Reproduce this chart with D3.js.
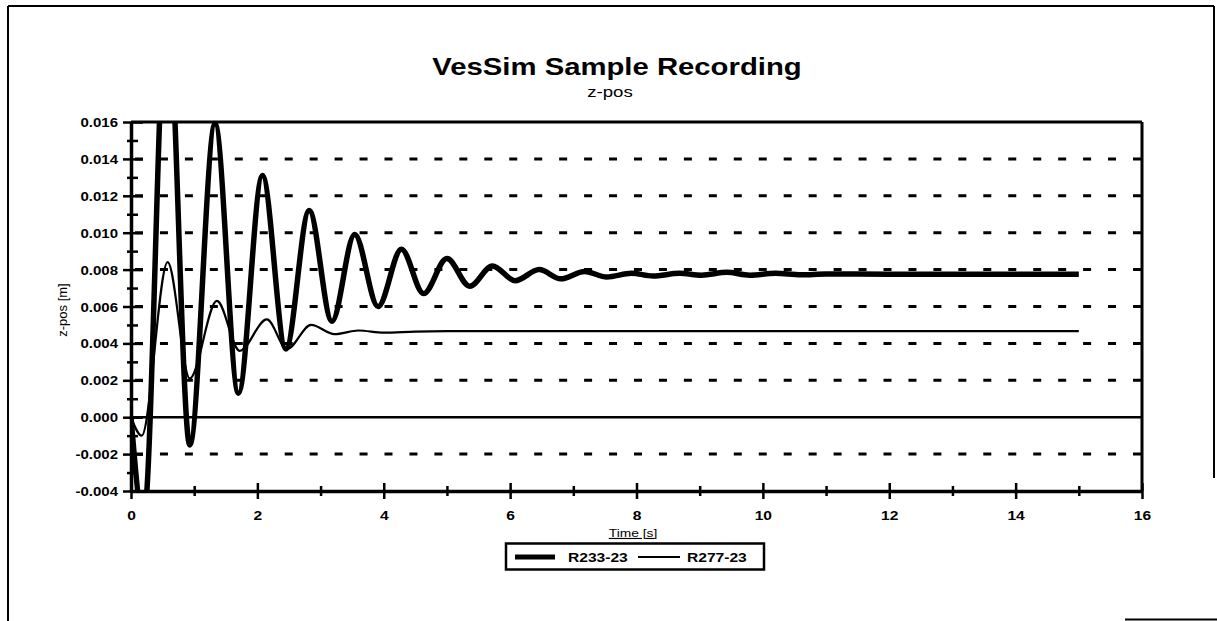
<!DOCTYPE html>
<html><head><meta charset="utf-8">
<script src="https://cdn.jsdelivr.net/npm/d3@7"></script>
<style>
body{margin:0;background:#fff;}
svg{display:block;font-family:"Liberation Sans",Arial,Helvetica,sans-serif;}
</style></head><body>
<svg id="c" width="1217" height="621"></svg>
<script>
const chartTitle = "VesSim Sample Recording";
const chartSubtitle = "z-pos";
const xAxisTitle = "Time [s]";
const yAxisTitle = "z-pos [m]";
const seriesNames = ["R233-23", "R277-23"];

const timeR233 = [0, 0.2, 0.57, 0.93, 1.33, 1.70, 2.08, 2.45, 2.82, 3.18, 3.54, 3.91, 4.28, 4.63, 5.00, 5.36, 5.72, 6.08, 6.46, 6.80, 7.18, 7.53, 7.92, 8.26, 8.68, 9.03, 9.43, 9.79, 10.2, 10.6, 11.0, 12.0, 13.0, 14.0, 15.0];
const valuesR233 = [0, -0.0055, 0.023, -0.0015, 0.0159, 0.0013, 0.0131, 0.0037, 0.0112, 0.0052, 0.0099, 0.0060, 0.0091, 0.0067, 0.0086, 0.0071, 0.0082, 0.0074, 0.0080, 0.0075, 0.0079, 0.0076, 0.0078, 0.00765, 0.0078, 0.0077, 0.00785, 0.0077, 0.0078, 0.00772, 0.00776, 0.00775, 0.00775, 0.00775, 0.00775];

const timeR277 = [0, 0.17, 0.58, 0.93, 1.36, 1.72, 2.15, 2.47, 2.85, 3.22, 3.6, 4.0, 4.5, 5.0, 6.0, 8.0, 10.0, 12.0, 15.0];
const valuesR277 = [0, -0.001, 0.0084, 0.0021, 0.0063, 0.0036, 0.0053, 0.0037, 0.0050, 0.0045, 0.0047, 0.00458, 0.00464, 0.00466, 0.00466, 0.00466, 0.00466, 0.00466, 0.00466];

const xTickValues = [0, 2, 4, 6, 8, 10, 12, 14, 16];
const xMinorTicks = [1, 3, 5, 7, 9, 11, 13, 15];
const yTickValues = [-0.004, -0.002, 0, 0.002, 0.004, 0.006, 0.008, 0.010, 0.012, 0.014, 0.016];
const yTickLabels = ["-0.004", "-0.002", "0.000", "0.002", "0.004", "0.006", "0.008", "0.010", "0.012", "0.014", "0.016"];
const yMinorTicks = [-0.003, -0.001, 0.001, 0.003, 0.005, 0.007, 0.009, 0.011, 0.013, 0.015];
const gridValues = [-0.002, 0.002, 0.004, 0.006, 0.008, 0.010, 0.012, 0.014];

const svg = d3.select("#c");
const x = d3.scaleLinear().domain([0, 16]).range([131, 1142]);
const y = d3.scaleLinear().domain([-0.004, 0.016]).range([491, 122]);
const SX = 1.2;

// outer page frame
const frame = svg.append("g").attr("stroke", "#000").attr("fill", "none");
frame.append("line").attr("x1", 8).attr("x2", 1214).attr("y1", 6).attr("y2", 6).attr("stroke-width", 2);
frame.append("line").attr("x1", 8).attr("x2", 8).attr("y1", 6).attr("y2", 621).attr("stroke-width", 2);
frame.append("line").attr("x1", 1214).attr("x2", 1214).attr("y1", 6).attr("y2", 478).attr("stroke-width", 2);
frame.append("line").attr("x1", 1125).attr("x2", 1217).attr("y1", 619.5).attr("y2", 619.5).attr("stroke-width", 2);

// titles
svg.append("text").attr("transform", `translate(617,75) scale(1.22,1)`).attr("text-anchor", "middle")
  .attr("font-size", 24).attr("font-weight", "bold").text(chartTitle);
svg.append("text").attr("transform", `translate(610,97) scale(${SX},1)`).attr("text-anchor", "middle")
  .attr("font-size", 15.5).text(chartSubtitle);

// grid
svg.append("g").selectAll("line").data(gridValues).join("line")
  .attr("x1", x(0)).attr("x2", x(16)).attr("y1", d => y(d)).attr("y2", d => y(d))
  .attr("stroke", "#000").attr("stroke-width", 3).attr("stroke-dasharray", "8,16.95").attr("stroke-dashoffset", -4);

// zero line
svg.append("line").attr("x1", x(0)).attr("x2", x(16)).attr("y1", y(0)).attr("y2", y(0))
  .attr("stroke", "#000").attr("stroke-width", 2.5);

// clip
svg.append("clipPath").attr("id", "plotclip").append("rect")
  .attr("x", x(0)).attr("y", y(0.016)).attr("width", x(16) - x(0)).attr("height", y(-0.004) - y(0.016));

const line = d3.line().x(d => x(d[0])).y(d => y(d[1])).curve(d3.curveMonotoneX);
const plot = svg.append("g").attr("clip-path", "url(#plotclip)");
plot.append("path").datum(timeR277.map((t, i) => [t, valuesR277[i]])).attr("d", line)
  .attr("fill", "none").attr("stroke", "#000").attr("stroke-width", 2.2).attr("stroke-linejoin", "round");
plot.append("path").datum(timeR233.map((t, i) => [t, valuesR233[i]])).attr("d", line)
  .attr("fill", "none").attr("stroke", "#000").attr("stroke-width", 5.5).attr("stroke-linejoin", "round");

// frame of plot (top & right)
svg.append("line").attr("x1", x(0)).attr("x2", x(16)).attr("y1", y(0.016)).attr("y2", y(0.016))
  .attr("stroke", "#000").attr("stroke-width", 3);
svg.append("line").attr("x1", x(16)).attr("x2", x(16)).attr("y1", y(0.016)).attr("y2", y(-0.004))
  .attr("stroke", "#000").attr("stroke-width", 3);

// x axis
const gx = svg.append("g").attr("transform", `translate(0,${y(-0.004)})`)
  .call(d3.axisBottom(x).tickValues(xTickValues).tickFormat(d3.format("d")).tickSizeOuter(0));
gx.select(".domain").attr("stroke-width", 3.5);
gx.selectAll(".tick line").attr("y1", -8).attr("y2", 8).attr("stroke-width", 2.5);
gx.selectAll(".tick text").attr("y", 29).attr("dy", 0).attr("font-size", 13).attr("font-weight", "bold")
  .attr("font-family", "Liberation Sans, Arial, sans-serif").attr("fill", "#000").attr("transform", `scale(${SX},1)`);
const gxm = svg.append("g").attr("transform", `translate(0,${y(-0.004)})`)
  .call(d3.axisBottom(x).tickValues(xMinorTicks).tickFormat("").tickSizeOuter(0));
gxm.select(".domain").remove();
gxm.selectAll(".tick line").attr("y1", -5).attr("y2", 5).attr("stroke-width", 2.5);

// y axis
const gy = svg.append("g").attr("transform", `translate(${x(0)},0)`)
  .call(d3.axisLeft(y).tickValues(yTickValues).tickFormat((d, i) => yTickLabels[i]).tickSizeOuter(0));
gy.select(".domain").attr("stroke-width", 3.5);
gy.selectAll(".tick line").attr("x1", -8).attr("x2", 12).attr("stroke-width", 2.5);
gy.selectAll(".tick text").attr("x", -13 / SX).attr("dy", "0.36em").attr("font-size", 12.5).attr("font-weight", "bold")
  .attr("font-family", "Liberation Sans, Arial, sans-serif").attr("fill", "#000").attr("transform", `scale(${SX},1)`);
const gym = svg.append("g").attr("transform", `translate(${x(0)},0)`)
  .call(d3.axisLeft(y).tickValues(yMinorTicks).tickFormat("").tickSizeOuter(0));
gym.select(".domain").remove();
gym.selectAll(".tick line").attr("x1", -4).attr("x2", 7).attr("stroke-width", 2.5);

// axis titles
svg.append("text").attr("transform", `translate(633,537) scale(${SX},1)`).attr("text-anchor", "middle")
  .attr("font-size", 11.5).attr("text-decoration", "underline").text(xAxisTitle);
svg.append("text").attr("transform", `translate(67,310) rotate(-90)`).attr("text-anchor", "middle")
  .attr("font-size", 13).text(yAxisTitle);

// legend
const lg = svg.append("g");
lg.append("rect").attr("x", 506).attr("y", 543.5).attr("width", 258).attr("height", 26)
  .attr("fill", "#fff").attr("stroke", "#000").attr("stroke-width", 2.5);
const legendItems = [
  {name: seriesNames[0], x1: 515, x2: 555, tx: 568, w: 5},
  {name: seriesNames[1], x1: 638, x2: 680, tx: 687, w: 2}
];
legendItems.forEach(it => {
  lg.append("line").attr("x1", it.x1).attr("x2", it.x2).attr("y1", 557).attr("y2", 557)
    .attr("stroke", "#000").attr("stroke-width", it.w);
  lg.append("text").attr("transform", `translate(${it.tx},562) scale(${SX},1)`)
    .attr("font-size", 13).attr("font-weight", "bold").text(it.name);
});
</script>
</body></html>
